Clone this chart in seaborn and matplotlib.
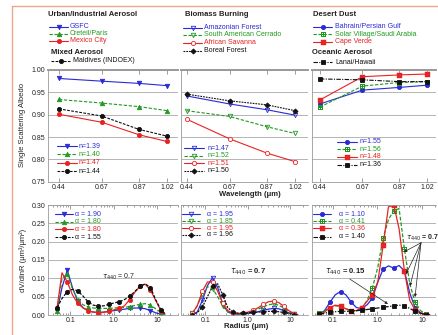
import matplotlib
matplotlib.use("Agg")
import matplotlib.pyplot as plt
import seaborn as sns
from matplotlib.lines import Line2D

# ---- data ----
wavelength = [0.44, 0.67, 0.87, 1.02]

ssa_gsfc = [0.981, 0.975, 0.970, 0.965]
ssa_creteil = [0.934, 0.926, 0.918, 0.909]
ssa_mexico = [0.901, 0.883, 0.855, 0.840]
ssa_maldives = [0.913, 0.897, 0.867, 0.852]

ssa_amazon = [0.942, 0.924, 0.911, 0.899]
ssa_cerrado = [0.909, 0.896, 0.873, 0.858]
ssa_savanna = [0.890, 0.846, 0.814, 0.795]
ssa_boreal = [0.946, 0.931, 0.922, 0.909]

ssa_bahrain = [0.924, 0.955, 0.961, 0.966]
ssa_solar = [0.917, 0.964, 0.972, 0.974]
ssa_capeverde = [0.933, 0.985, 0.989, 0.991]
ssa_lanai = [0.980, 0.978, 0.974, 0.974]

radius = [0.05, 0.065, 0.086, 0.113, 0.149, 0.196, 0.258, 0.339, 0.446, 0.588, 0.774,
          1.019, 1.341, 1.766, 2.325, 3.061, 4.03, 5.306, 6.986, 9.197, 12.11, 15.0]

vol_gsfc = [0.010, 0.075, 0.122, 0.075, 0.038, 0.020, 0.011, 0.008, 0.007, 0.008, 0.010,
            0.012, 0.014, 0.016, 0.018, 0.019, 0.019, 0.017, 0.012, 0.006, 0.002, 0.000]
vol_creteil = [0.012, 0.100, 0.112, 0.072, 0.042, 0.028, 0.022, 0.019, 0.018, 0.018, 0.018,
               0.019, 0.020, 0.021, 0.023, 0.026, 0.029, 0.031, 0.027, 0.017, 0.007, 0.002]
vol_mexico = [0.020, 0.115, 0.090, 0.055, 0.032, 0.020, 0.012, 0.008, 0.006, 0.007, 0.010,
              0.014, 0.018, 0.025, 0.042, 0.062, 0.078, 0.084, 0.068, 0.040, 0.012, 0.003]
vol_maldives = [0.020, 0.045, 0.064, 0.070, 0.066, 0.052, 0.036, 0.027, 0.024, 0.025, 0.029,
                0.033, 0.036, 0.042, 0.051, 0.064, 0.079, 0.085, 0.075, 0.042, 0.014, 0.004]

vol_amazon = [0.002, 0.008, 0.040, 0.080, 0.102, 0.075, 0.030, 0.008, 0.003, 0.002, 0.003,
              0.004, 0.006, 0.009, 0.013, 0.016, 0.018, 0.017, 0.012, 0.006, 0.002, 0.000]
vol_cerrado = [0.005, 0.025, 0.058, 0.077, 0.072, 0.050, 0.024, 0.009, 0.004, 0.003, 0.004,
               0.006, 0.010, 0.016, 0.023, 0.028, 0.030, 0.027, 0.019, 0.009, 0.003, 0.001]
vol_savanna = [0.005, 0.025, 0.065, 0.090, 0.090, 0.065, 0.032, 0.012, 0.005, 0.004, 0.005,
               0.008, 0.013, 0.020, 0.029, 0.036, 0.038, 0.034, 0.024, 0.012, 0.004, 0.001]
vol_boreal = [0.001, 0.006, 0.022, 0.050, 0.078, 0.085, 0.055, 0.020, 0.008, 0.005, 0.005,
              0.006, 0.007, 0.008, 0.009, 0.010, 0.010, 0.009, 0.007, 0.004, 0.001, 0.000]

vol_bahrain = [0.002, 0.012, 0.035, 0.055, 0.064, 0.055, 0.035, 0.020, 0.018, 0.028, 0.046,
               0.090, 0.125, 0.134, 0.128, 0.135, 0.120, 0.060, 0.020, 0.006, 0.001, 0.000]
vol_solar = [0.005, 0.012, 0.020, 0.025, 0.023, 0.017, 0.012, 0.011, 0.018, 0.040, 0.075,
             0.130, 0.210, 0.260, 0.285, 0.290, 0.180, 0.085, 0.035, 0.012, 0.003, 0.000]
vol_capeverde = [0.000, 0.008, 0.020, 0.027, 0.024, 0.017, 0.012, 0.012, 0.020, 0.038, 0.055,
                 0.090, 0.190, 0.295, 0.300, 0.235, 0.120, 0.040, 0.014, 0.005, 0.001, 0.000]
vol_lanai = [0.002, 0.005, 0.008, 0.009, 0.010, 0.010, 0.011, 0.012, 0.013, 0.015, 0.017,
             0.019, 0.021, 0.023, 0.025, 0.027, 0.025, 0.018, 0.010, 0.005, 0.001, 0.000]

n_labels = [["n=1.39", "n=1.40", "n=1.47", "n=1.44"],
            ["n=1.47", "n=1.52", "n=1.51", "n=1.50"],
            ["n=1.55", "n=1.56", "n=1.48", "n=1.36"]]
alpha_labels = [["α = 1.90", "α = 1.80", "α = 1.80", "α = 1.55"],
                ["α = 1.95", "α = 1.85", "α = 1.95", "α = 1.96"],
                ["α = 1.10", "α = 0.41", "α = 0.36", "α = 1.40"]]
site_names = [["GSFC", "Creteil/Paris", "Mexico City", "Maldives (INDOEX)"],
              ["Amazonian Forest", "South American Cerrado", "African Savanna", "Boreal Forest"],
              ["Bahrain/Persian Gulf", "Solar Village/Saudi Arabia", "Cape Verde", "Lanai/Hawaii"]]

ssa_sets = [[ssa_gsfc, ssa_creteil, ssa_mexico, ssa_maldives],
            [ssa_amazon, ssa_cerrado, ssa_savanna, ssa_boreal],
            [ssa_bahrain, ssa_solar, ssa_capeverde, ssa_lanai]]
vol_sets = [[vol_gsfc, vol_creteil, vol_mexico, vol_maldives],
            [vol_amazon, vol_cerrado, vol_savanna, vol_boreal],
            [vol_bahrain, vol_solar, vol_capeverde, vol_lanai]]

# ---- styling ----
BLUE, GREEN, RED, BLACK = "#2a2ad6", "#1f9a1f", "#e82222", "#111111"
# (color, linestyle, marker, facecolor, size)
STYLES = [
    [(BLUE, "-", "v", BLUE, 3.2), (GREEN, (0, (3, 1.5)), "^", GREEN, 3.2),
     (RED, "-", "o", RED, 3.0), (BLACK, (0, (2.5, 1.2)), "o", BLACK, 3.0)],
    [(BLUE, "-", "v", "none", 3.2), (GREEN, (0, (3, 1.5)), "v", "none", 3.2),
     (RED, "-", "o", "white", 3.0), (BLACK, (0, (1.6, 0.9)), "D", BLACK, 2.6)],
    [(BLUE, "-", "o", BLUE, 3.0), (GREEN, (0, (3, 1.5)), r"$\boxplus$", GREEN, 3.3),
     (RED, "-", r"$\boxtimes$", RED, 3.3), (BLACK, (0, (4, 1.2, 1, 1.2)), "s", BLACK, 2.4)],
]

W, H = 438, 335
sns.set_theme(style="white")
plt.rcParams['font.family'] = ['Liberation Sans', 'DejaVu Sans']

fig = plt.figure(figsize=(W / 100, H / 100), dpi=100)
fig.patch.set_facecolor("white")


def rect(x0, y0, x1, y1):
    return [x0 / W, 1 - y1 / H, (x1 - x0) / W, (y1 - y0) / H]


def key(x, y, style, label, hw=19, gap=2, size=5):
    color, ls, marker, mfc, ms = style
    fy = 1 - y / H
    fig.add_artist(Line2D([x / W, (x + hw) / W], [fy, fy], transform=fig.transFigure,
                          color=color, ls=ls, lw=0.8))
    fig.add_artist(Line2D([(x + hw / 2) / W], [fy], transform=fig.transFigure, ls="none",
                          marker=marker, ms=ms, mfc=mfc, mec=color, mew=0.6))
    fig.text((x + hw + gap) / W, fy, label, color=color, fontsize=size, va="center", ha="left")


cols_x = [(48, 178), (181, 308), (312, 436)]
top_xlim = [(0.381, 1.079), (0.41, 1.09), (0.397, 1.069)]
bot_xlim = [(0.031, 30), (0.027, 26), (0.034, 20.6)]


def style_axes(ax, first):
    for side, sp in ax.spines.items():
        sp.set_color("#9a9a9a")
        sp.set_linewidth(0.6)
    ax.spines["right"].set_visible(False)
    ax.yaxis.grid(True, color="#b4b4b4", lw=0.7)
    ax.set_axisbelow(True)
    ax.tick_params(axis="both", which="both", direction="in", colors="#777777",
                   labelcolor="#222222", labelsize=5, width=0.5, top=True, bottom=True)
    ax.tick_params(axis="x", which="major", length=3, pad=1.5)
    ax.tick_params(axis="x", which="minor", length=1.6)
    ax.tick_params(axis="y", length=2, pad=2, labelleft=first)
    ax.set_xlabel("")
    ax.set_ylabel("")


arrow = dict(arrowstyle="-|>", lw=0.5, color="#222222", mutation_scale=4, shrinkA=0, shrinkB=0)

for i in range(3):
    x0, x1 = cols_x[i]
    # --- single scattering albedo ---
    ax = fig.add_axes(rect(x0, 70, x1, 181.7))
    for vals, st in zip(ssa_sets[i], STYLES[i]):
        color, ls, marker, mfc, ms = st
        sns.lineplot(x=wavelength, y=vals, ax=ax, color=color, linestyle=ls, lw=0.8,
                     marker=marker, markersize=ms, markerfacecolor=mfc,
                     markeredgecolor=color, markeredgewidth=0.6)
    ax.set_xlim(*top_xlim[i])
    ax.set_ylim(0.75, 1.0)
    ax.set_xticks(wavelength)
    ax.set_xticklabels([f"{w:.2f}" for w in wavelength])
    ax.set_yticks([0.75, 0.80, 0.85, 0.90, 0.95, 1.00])
    ax.set_yticklabels(["0.75", "0.80", "0.85", "0.90", "0.95", "1.00"])
    style_axes(ax, i == 0)
    ax.spines["top"].set_linewidth(1.4)

    # --- volume size distribution ---
    bx = fig.add_axes(rect(x0, 205, x1, 315))
    for vals, st in zip(vol_sets[i], STYLES[i]):
        color, ls, marker, mfc, ms = st
        sns.lineplot(x=radius, y=vals, ax=bx, color=color, linestyle=ls, lw=0.9,
                     marker=marker, markersize=ms, markerfacecolor=mfc,
                     markeredgecolor=color, markeredgewidth=0.6, markevery=2)
    bx.set_xscale("log")
    bx.set_xlim(*bot_xlim[i])
    bx.set_ylim(0, 0.30)
    bx.set_xticks([0.1, 1.0, 10])
    bx.set_xticklabels(["0.1", "1.0", "10"])
    bx.set_yticks([0.0, 0.05, 0.10, 0.15, 0.20, 0.25, 0.30])
    bx.set_yticklabels(["0.00", "0.05", "0.10", "0.15", "0.20", "0.25", "0.30"])
    style_axes(bx, i == 0)

    if i == 0:
        bx.text(0.55, 0.104, r"$\tau_{440}$ = 0.7", fontsize=5, va="center", color="#222222")
    elif i == 1:
        bx.text(0.376, 0.117, r"$\tau_{440}$ = 0.7", fontsize=5.5, va="center",
                fontweight="bold", color="#222222")
    else:
        bx.text(0.066, 0.117, r"$\tau_{440}$ = 0.15", fontsize=5.5, va="center",
                fontweight="bold", color="#222222")
        bx.annotate("", xy=(1.72, 0.030), xytext=(0.24, 0.098), arrowprops=arrow)
        bx.text(4.4, 0.21, r"$\tau_{440}$ = 0.7", fontsize=5, va="center",
                fontweight="bold", color="#222222", clip_on=False)
        for tx, ty in [(3.94, 0.172), (4.38, 0.112), (5.37, 0.079), (6.97, 0.049)]:
            bx.annotate("", xy=(tx, ty), xytext=(9.5, 0.197), arrowprops=arrow)

# ---- in-panel legends ----
top_leg = [(57, 2, [146, 154.3, 162.7, 171]), (184, 4, [148.3, 155.7, 163.3, 170.7]),
           (337, 3, [141.7, 149.3, 156.7, 165])]
bot_leg = [(55, 2, [214, 221.7, 229.3, 237.3]), (182, 7, [214, 221.3, 228.3, 235]),
           (313, 8, [214, 221.3, 228.3, 236.7])]
for i in range(3):
    x, gap, ys = top_leg[i]
    for y, st, lab in zip(ys, STYLES[i], n_labels[i]):
        key(x, y, st, lab, hw=20, gap=gap)
    x, gap, ys = bot_leg[i]
    for y, st, lab in zip(ys, STYLES[i], alpha_labels[i]):
        key(x, y, st, lab, hw=18, gap=gap)


# ---- site legends above the panels ----
def title(x, y, s):
    fig.text(x / W, 1 - y / H, s, fontsize=5.5, fontweight="bold", color="#222222",
             va="center", ha="left")


title(48, 15, "Urban/Industrial Aerosol")
for y, st, lab in zip([26.7, 33.7, 41], STYLES[0][:3], site_names[0][:3]):
    key(49, y, st, lab)
title(51, 52, "Mixed Aerosol")
key(51, 61, STYLES[0][3], site_names[0][3], gap=3)

title(185, 15, "Biomass Burning")
for y, st, lab in zip([27.7, 35, 42.7, 50.7], STYLES[1], site_names[1]):
    key(183, y, st, lab)

title(313, 15, "Desert Dust")
for y, st, lab in zip([26.7, 34, 41.7], STYLES[2][:3], site_names[2][:3]):
    key(313, y, st, lab, gap=3)
title(312, 52.7, "Oceanic Aerosol")
key(313, 62, STYLES[2][3], site_names[2][3], gap=3)

# ---- axis titles ----
fig.text(23 / W, 1 - 125 / H, "Single Scattering Albedo", rotation=90, fontsize=5.5,
         va="center", ha="center", color="#222222")
fig.text(23 / W, 1 - 260 / H, "dV/dlnR (μm³/μm²)", rotation=90, fontsize=5.5,
         va="center", ha="center", color="#222222")
fig.text(250 / W, 1 - 195 / H, "Wavelength (μm)", fontsize=5.5, fontweight="bold",
         va="center", ha="center", color="#222222")
fig.text(246 / W, 1 - 327 / H, "Radius (μm)", fontsize=5.5, fontweight="bold",
         va="center", ha="center", color="#222222")

# salmon frame
fig.add_artist(Line2D([12 / W, 12 / W], [0, 1 - 6 / H], transform=fig.transFigure,
                      color="#eea58a", lw=1.0))
fig.add_artist(Line2D([12 / W, 1], [1 - 6 / H, 1 - 6 / H], transform=fig.transFigure,
                      color="#eea58a", lw=1.0))

fig.savefig("out.png", dpi=100)
